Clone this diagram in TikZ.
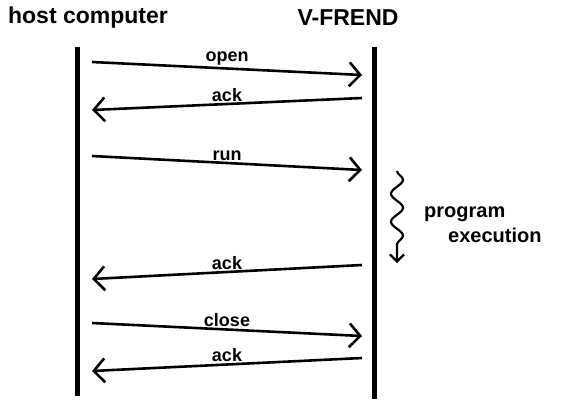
\documentclass[tikz,border=0pt]{standalone}
\usepackage{fontspec}
\setmainfont{Liberation Sans}
\usetikzlibrary{arrows.meta,positioning,decorations.pathmorphing}
\tikzstyle{lifeline} = [line width=5pt]
\tikzstyle{msg} = [line width=2.6pt, -{Straight Barb[length=11pt, width=24pt, line width=2.6pt]}]
\tikzstyle{lbl} = [above, inner sep=1.5pt, font=\fontsize{18}{20}\selectfont\bfseries]
\tikzstyle{title} = [font=\fontsize{23}{26}\selectfont\bfseries]

\begin{document}
\begin{tikzpicture}[x=1pt, y=-1pt]
\useasboundingbox (0,0) rectangle (565,402);
% Titles
\node (host) [title] at (88,18) {host computer};
\node (vfrend) [title] at (348,18) {V-FREND};

% Lifelines
\coordinate (htop) at (77,47);
\coordinate (hbot) at (77,396);
\coordinate (vtop) at (374,47);
\coordinate (vbot) at (374,399);
\draw[lifeline] (htop) -- (hbot);
\draw[lifeline] (vtop) -- (vbot);

% Message ends
\coordinate (h1) at (92,62);   \coordinate (v1) at (362,75);
\coordinate (v2) at (362,98);  \coordinate (h2) at (92,110);
\coordinate (h3) at (92,156);  \coordinate (v3) at (362,170);
\coordinate (v4) at (362,265); \coordinate (h4) at (92,279);
\coordinate (h5) at (92,323);  \coordinate (v5) at (362,336);
\coordinate (v6) at (362,358); \coordinate (h6) at (92,371);

% Messages
\draw[msg] (h1) -- node[lbl] {open} (v1);
\draw[msg] (v2) -- node[lbl] {ack} (h2);
\draw[msg] (h3) -- node[lbl] {run} (v3);
\draw[msg] (v4) -- node[lbl] {ack} (h4);
\draw[msg] (h5) -- node[lbl] {close} (v5);
\draw[msg] (v6) -- node[lbl] {ack} (h6);

% Program execution
\coordinate (etop) at (397,171);
\coordinate (ebot) at (397,263);
\draw[line width=2.2pt, -{Straight Barb[length=7pt, width=14pt, line width=2.2pt]},
  decorate, decoration={snake, amplitude=6pt, segment length=28pt, post length=8pt}] (etop) -- (ebot);
\node (exec) [font=\fontsize{20}{25}\selectfont\bfseries, align=left, anchor=west, inner sep=0pt] at (424,225) {program\\\hspace{1.2em}execution};
\end{tikzpicture}
\end{document}
